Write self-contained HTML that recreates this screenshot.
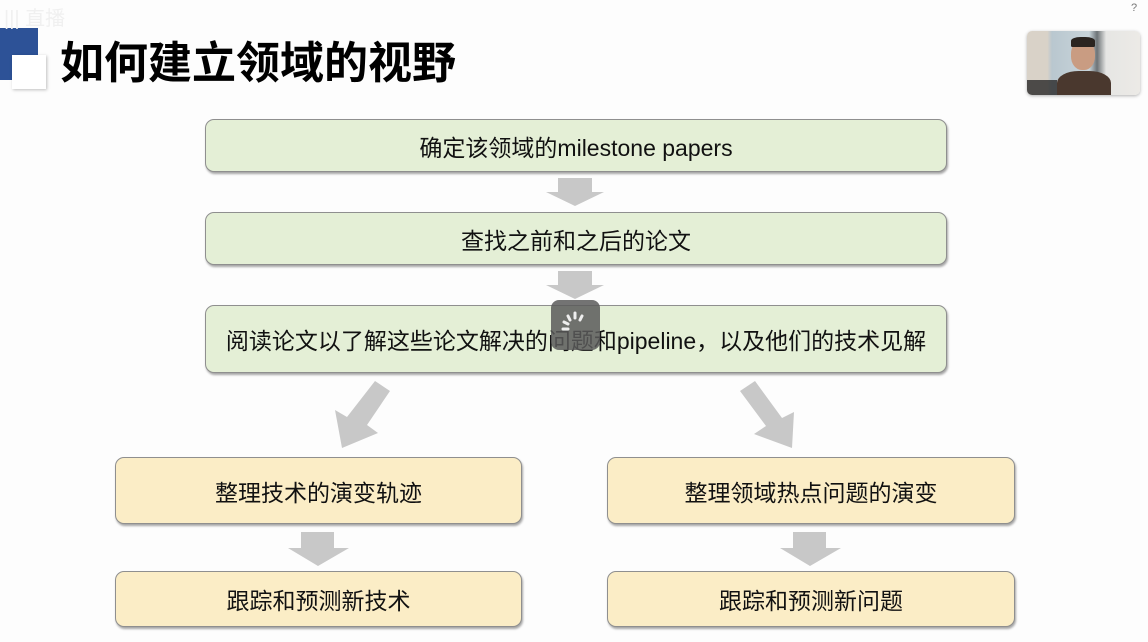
<!DOCTYPE html>
<html><head><meta charset="utf-8"><style>
body{margin:0;width:1148px;height:642px;background:#fdfdfd;position:relative;overflow:hidden;font-family:"Liberation Sans","Noto Sans CJK SC",sans-serif}
.a{position:absolute}
.box{position:absolute;box-sizing:border-box;border:1.5px solid #8f8f8f;border-radius:9px;box-shadow:1px 2px 2px rgba(0,0,0,.35);display:flex;align-items:center;justify-content:center;font-size:23px;color:#111}
.g{background:#e4efd6}
.y{background:#fbedc6}
</style></head><body>
<div class="a" style="left:0;top:28px;width:38px;height:52px;background:#2d5297"></div>
<div class="a" style="left:12px;top:55px;width:34px;height:34px;background:#fff;box-shadow:1px 1px 3px rgba(0,0,0,.25)"></div>
<div class="a" style="left:4px;top:2px;font-size:20px;color:#f0f0f0">||| 直播</div>
<div class="a" style="left:60px;top:32px;font-size:44px;font-weight:bold;color:#000;font-family:'Noto Sans CJK SC',sans-serif;line-height:54px">如何建立领域的视野</div>
<div class="a" style="left:1027px;top:31px;width:113px;height:64px;border-radius:5px;background:linear-gradient(90deg,#d9d2c8 0,#d9d2c8 18%,#b9c7cf 22%,#c8d4da 55%,#6d7377 62%,#e6e6e4 70%,#eceae6 100%);box-shadow:0 1px 3px rgba(0,0,0,.3);overflow:hidden">
<div class="a" style="left:44px;top:9px;width:24px;height:30px;border-radius:45%;background:#c99c82"></div>
<div class="a" style="left:44px;top:6px;width:24px;height:10px;border-radius:40% 40% 10% 10%;background:#2a2420"></div>
<div class="a" style="left:30px;top:40px;width:54px;height:30px;border-radius:40% 40% 0 0;background:#4a382e"></div>
<div class="a" style="left:0;top:49px;width:30px;height:15px;background:rgba(40,40,40,.8)"></div>
</div>
<div class="a" style="left:1131px;top:2px;font-size:11px;color:#777">?</div>

<div class="box g" style="left:205px;top:119px;width:742px;height:53px">确定该领域的milestone papers</div>
<div class="box g" style="left:205px;top:212px;width:742px;height:53px">查找之前和之后的论文</div>
<div class="box g" style="left:205px;top:305px;width:742px;height:68px">阅读论文以了解这些论文解决的问题和pipeline，以及他们的技术见解</div>
<div class="box y" style="left:115px;top:457px;width:407px;height:67px">整理技术的演变轨迹</div>
<div class="box y" style="left:607px;top:457px;width:408px;height:67px">整理领域热点问题的演变</div>
<div class="box y" style="left:115px;top:571px;width:407px;height:56px">跟踪和预测新技术</div>
<div class="box y" style="left:607px;top:571px;width:408px;height:56px">跟踪和预测新问题</div>

<svg class="a" style="left:0;top:0" width="1148" height="642">
<g fill="#c8c8c8">
<polygon points="558,178 592,178 592,192 604,192 575,206 546,192 558,192"/>
<polygon points="558,271 592,271 592,285 604,285 575,299 546,285 558,285"/>
<polygon points="301,532 334,532 334,548 349,548 318,566 288,548 301,548"/>
<polygon points="793,532 826,532 826,548 841,548 810,566 780,548 793,548"/>
<polygon points="375,381 390,391 367,425 378,433 342,448 335,410 347,417"/>
<polygon points="740,391 755,381 782,418 794,412 792,448 754,434 766,426"/>
</g>
</svg>
<div class="a" style="left:551px;top:300px;width:49px;height:50px;border-radius:8px;background:rgba(90,90,90,.85)"></div>
<svg class="a" style="left:551px;top:300px" width="49" height="50"><g stroke="#eee" stroke-width="3" stroke-linecap="round">
<line x1="24" y1="13" x2="24" y2="18"/><line x1="17" y1="16" x2="19" y2="20"/><line x1="13" y1="22" x2="17" y2="24"/><line x1="12" y1="29" x2="17" y2="29"/><line x1="31" y1="16" x2="29" y2="20"/></g></svg>
</body></html>
